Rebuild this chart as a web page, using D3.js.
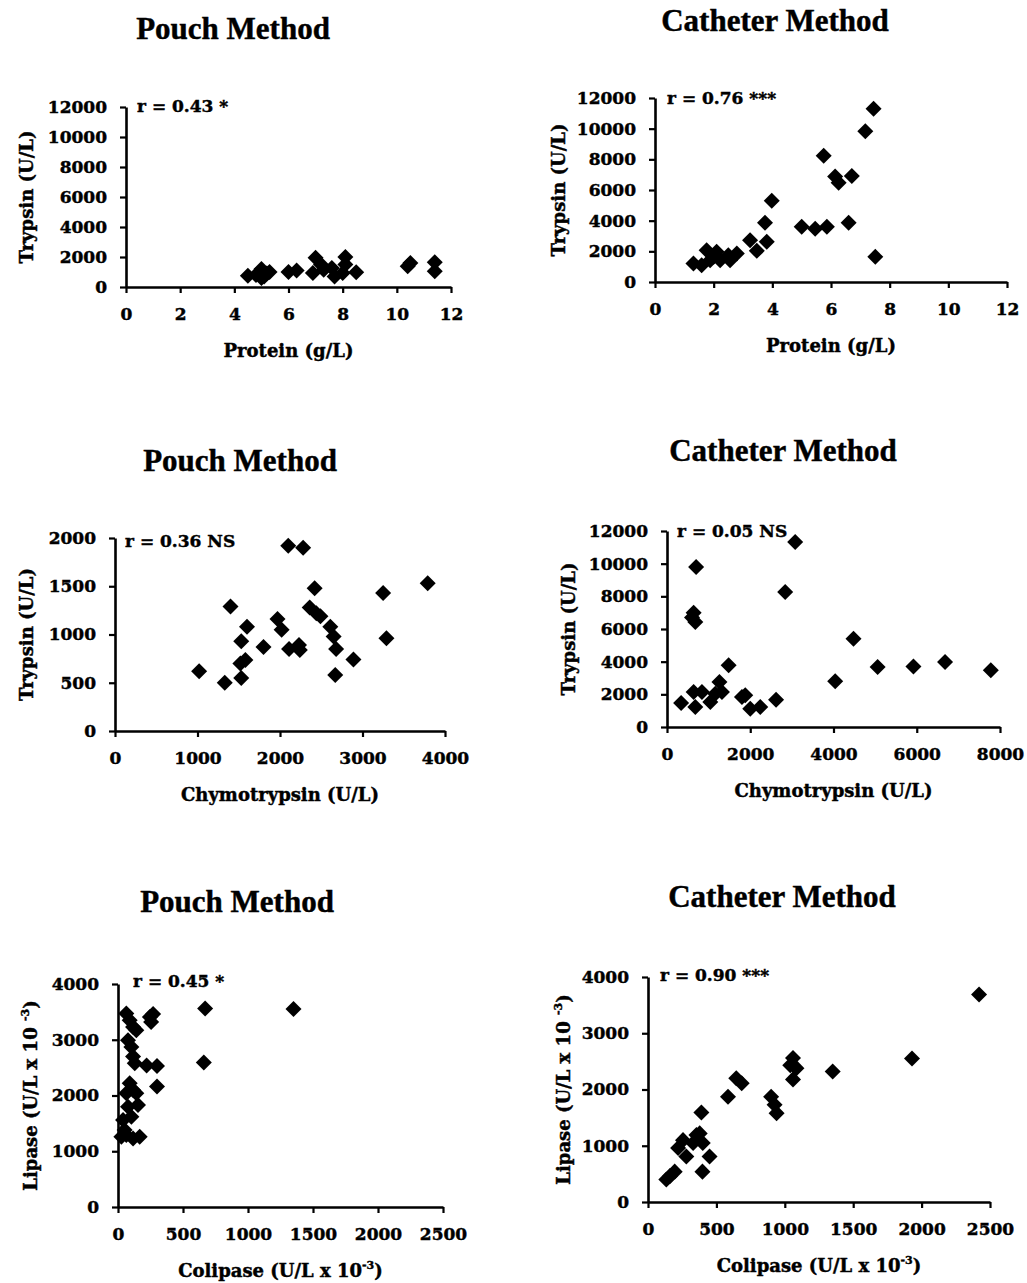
<!DOCTYPE html>
<html>
<head>
<meta charset="utf-8">
<script src="https://cdn.jsdelivr.net/npm/d3@7"></script>
<style>
  body { margin: 0; background: #fff; }
  svg { display: block; }
  text { fill: #000; stroke: #000; stroke-width: 0.45px; }
</style>
</head>
<body>
<div id="chart"></div>
<script>
// values

// top row: trypsin vs protein
const pouchProtein = [4.5, 4.8, 5.0, 5.0, 5.1, 5.2, 5.3, 5.0, 6.0, 6.3, 7.0, 7.2, 6.9, 7.3, 7.7, 7.6, 8.1, 8.1, 8.0, 8.5, 10.5, 10.4, 11.4, 11.4];
const pouchTrypsinA = [750, 800, 1000, 1200, 700, 900, 1000, 600, 1000, 1100, 1950, 1500, 930, 1150, 700, 1270, 2000, 1500, 930, 980, 1600, 1380, 1650, 1050];

const cathProtein = [7.45, 7.17, 5.75, 6.14, 6.26, 6.71, 6.6, 3.98, 3.75, 3.81, 3.24, 3.47, 5.0, 5.46, 5.86, 7.51, 1.31, 1.59, 1.76, 2.1, 2.22, 2.0, 2.5, 2.79, 2.56, 1.88];
const cathTrypsinA = [11300, 9830, 8230, 6880, 6480, 6920, 3860, 5300, 3860, 2620, 2730, 2030, 3600, 3470, 3600, 1640, 1200, 1100, 2070, 1970, 1420, 1640, 1750, 1860, 1420, 1420];

// middle row: trypsin vs chymotrypsin
const pouchChymo = [1020, 1330, 1400, 1530, 1530, 1520, 1580, 1600, 1800, 1970, 2020, 2100, 2280, 2110, 2230, 2240, 2360, 2420, 2440, 2490, 2610, 2650, 2680, 2670, 2890, 3250, 3290, 3790];
const pouchTrypsinB = [620, 500, 1290, 550, 930, 700, 735, 1080, 870, 1160, 1050, 1920, 1900, 850, 890, 840, 1280, 1480, 1220, 1190, 1080, 980, 850, 580, 740, 1430, 960, 1530];

const cathChymo = [340, 680, 640, 840, 700, 640, 600, 680, 1040, 1160, 1260, 1320, 1480, 1800, 1880, 2000, 2240, 2620, 2840, 3080, 4040, 4480, 5060, 5920, 6680, 7780];
const cathTrypsinB = [1470, 1220, 2140, 2140, 9800, 7000, 6700, 6430, 1530, 2040, 2760, 2140, 3780, 1840, 1940, 1120, 1220, 1670, 8270, 11330, 2800, 5410, 3670, 3710, 3980, 3470];

// bottom row: lipase vs colipase
const pouchColipase = [670, 1350, 660, 220, 300, 300, 245, 255, 270, 64, 90, 116, 141, 77, 103, 116, 129, 90, 116, 64, 141, 154, 77, 103, 39, 51, 26, 116, 167, 64];
const pouchLipase = [3560, 3550, 2590, 2540, 2530, 2160, 3410, 3320, 3460, 3470, 3350, 3230, 3170, 2990, 2870, 2700, 2580, 2220, 2100, 2040, 2040, 1830, 1800, 1620, 1560, 1380, 1260, 1230, 1260, 1290];

const cathColipase = [2420, 1930, 1350, 1060, 1085, 1060, 1040, 900, 925, 940, 645, 685, 585, 390, 378, 400, 450, 398, 256, 220, 280, 330, 134, 195, 160, 354];
const cathLipase = [3690, 2550, 2320, 2560, 2380, 2180, 2430, 1870, 1730, 1580, 2200, 2110, 1870, 1590, 1220, 1050, 810, 540, 1100, 960, 810, 1050, 400, 540, 460, 1190];

// tick values
const proteinTicks = [0, 2, 4, 6, 8, 10, 12];
const trypsinTicks = [0, 2000, 4000, 6000, 8000, 10000, 12000];
const pouchChymoTicks = [0, 1000, 2000, 3000, 4000];
const pouchTrypsinTicks = [0, 500, 1000, 1500, 2000];
const cathChymoTicks = [0, 2000, 4000, 6000, 8000];
const colipaseTicks = [0, 500, 1000, 1500, 2000, 2500];
const lipaseTicks = [0, 1000, 2000, 3000, 4000];

const titles = ["Pouch Method", "Catheter Method", "Pouch Method", "Catheter Method", "Pouch Method", "Catheter Method"];
const notes = ["r = 0.43 *", "r = 0.76 ***", "r = 0.36 NS", "r = 0.05 NS", "r = 0.45 *", "r = 0.90 ***"];

const panels = [
  {xs: pouchProtein, ys: pouchTrypsinA, xt: proteinTicks, yt: trypsinTicks, xl: "Protein (g/L)", yl: "Trypsin (U/L)"},
  {xs: cathProtein, ys: cathTrypsinA, xt: proteinTicks, yt: trypsinTicks, xl: "Protein (g/L)", yl: "Trypsin (U/L)"},
  {xs: pouchChymo, ys: pouchTrypsinB, xt: pouchChymoTicks, yt: pouchTrypsinTicks, xl: "Chymotrypsin (U/L)", yl: "Trypsin (U/L)"},
  {xs: cathChymo, ys: cathTrypsinB, xt: cathChymoTicks, yt: trypsinTicks, xl: "Chymotrypsin (U/L)", yl: "Trypsin (U/L)"},
  {xs: pouchColipase, ys: pouchLipase, xt: colipaseTicks, yt: lipaseTicks, xl: "Colipase", yl: "Lipase", exp: true},
  {xs: cathColipase, ys: cathLipase, xt: colipaseTicks, yt: lipaseTicks, xl: "Colipase", yl: "Lipase", exp: true}
];

// where each panel sits on the page (plot box, title, note, y label)
const layout = [
  {l: 126, r: 451, t: 107, b: 287, tx: 233, ty: 39, nx: 137, ny: 112, yx: 33},
  {l: 655, r: 1007, t: 98, b: 282, tx: 775, ty: 31, nx: 667, ny: 104, yx: 565},
  {l: 115, r: 445, t: 538, b: 731, tx: 240, ty: 471, nx: 125, ny: 547, yx: 33},
  {l: 667, r: 1000, t: 531, b: 727, tx: 783, ty: 461, nx: 677, ny: 537, yx: 575},
  {l: 118, r: 443, t: 984, b: 1207, tx: 237, ty: 912, nx: 133, ny: 987, yx: 37},
  {l: 648, r: 990, t: 977, b: 1202, tx: 782, ty: 907, nx: 660, ny: 981, yx: 570}
];

const serif = "'DejaVu Serif', serif";

const svg = d3.select('#chart')
  .append('svg')
  .attr('width', 1027)
  .attr('height', 1283);

const marker = d3.symbol().type(d3.symbolSquare).size(128);

panels.forEach(function(p, i) {
  const box = layout[i];
  const x = d3.scaleLinear().domain([p.xt[0], p.xt[p.xt.length - 1]]).range([box.l, box.r]);
  const y = d3.scaleLinear().domain([p.yt[0], p.yt[p.yt.length - 1]]).range([box.b, box.t]);
  const g = svg.append('g');

  // title
  g.append('text')
    .attr('x', box.tx).attr('y', box.ty)
    .attr('text-anchor', 'middle')
    .style('font-family', "'Liberation Serif', serif")
    .style('font-weight', 'bold')
    .style('font-size', '31px')
    .text(titles[i]);

  const xAxis = g.append('g')
    .attr('transform', `translate(0,${box.b})`)
    .call(d3.axisBottom(x).tickValues(p.xt).tickFormat(d3.format('d')).tickSize(6).tickSizeOuter(0).tickPadding(15));
  const yAxis = g.append('g')
    .attr('transform', `translate(${box.l},0)`)
    .call(d3.axisLeft(y).tickValues(p.yt).tickFormat(d3.format('d')).tickSize(6).tickSizeOuter(0).tickPadding(13));

  [xAxis, yAxis].forEach(function(a) {
    a.select('.domain').attr('stroke', '#000').attr('stroke-width', 2.6);
    a.selectAll('.tick line').attr('stroke', '#000').attr('stroke-width', 2.2);
    a.selectAll('.tick text')
      .style('font-family', serif)
      .style('font-weight', 'bold')
      .style('font-size', '17px')
      .attr('fill', '#000');
  });

  // axis titles
  const xl = g.append('text')
    .attr('x', (box.l + box.r) / 2).attr('y', box.b + 70)
    .attr('text-anchor', 'middle')
    .style('font-family', serif).style('font-weight', 'bold').style('font-size', '18px')
    .text(p.xl);
  const yl = g.append('text')
    .attr('transform', `translate(${box.yx},${(box.t + box.b) / 2}) rotate(-90)`)
    .attr('text-anchor', 'middle')
    .style('font-family', serif).style('font-weight', 'bold').style('font-size', '18px')
    .text(p.yl);
  if (p.exp) {
    xl.append('tspan').text(' (U/L x 10');
    xl.append('tspan').attr('dy', -8).style('font-size', '11px').text('-3');
    xl.append('tspan').attr('dy', 8).text(')');
    yl.append('tspan').text(' (U/L x 10 ');
    yl.append('tspan').attr('dy', -8).style('font-size', '11px').text('-3');
    yl.append('tspan').attr('dy', 8).text(')');
  }

  // correlation note
  g.append('text')
    .attr('x', box.nx).attr('y', box.ny)
    .style('font-family', serif).style('font-weight', 'bold').style('font-size', '17px')
    .text(notes[i]);

  // points
  g.selectAll('path.pt')
    .data(d3.range(p.xs.length))
    .enter().append('path')
    .attr('class', 'pt')
    .attr('d', marker)
    .attr('transform', k => `translate(${x(p.xs[k])},${y(p.ys[k])}) rotate(45)`)
    .attr('fill', '#000');
});
</script>
</body>
</html>
